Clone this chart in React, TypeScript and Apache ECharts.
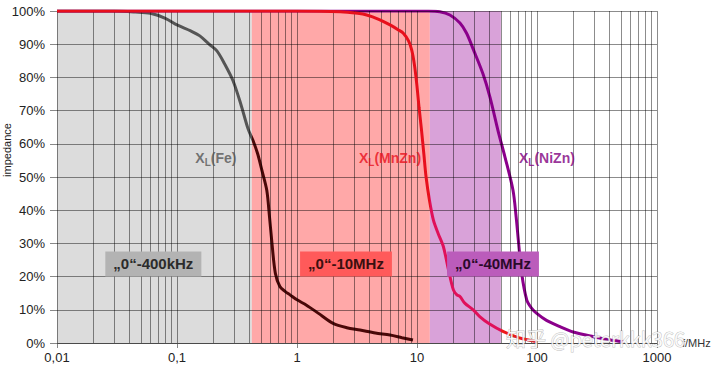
import React, { useEffect, useRef } from "react";
import * as echarts from "echarts";

// ---- data (frequency in MHz, impedance in %) ----
const feData: [number, number][] = [
  [0.01, 100], [0.03, 100], [0.045, 99.7], [0.06, 99.3], [0.08, 97.8], [0.1, 95.8],
  [0.13, 94], [0.155, 92.5], [0.185, 90], [0.215, 88], [0.25, 84], [0.293, 79],
  [0.34, 72], [0.391, 64.5], [0.43, 61], [0.47, 57], [0.51, 52], [0.56, 46],
  [0.59, 38], [0.615, 31], [0.66, 21], [0.72, 17], [0.8, 15.5], [0.875, 14.5],
  [1.0, 13], [1.2, 11.4], [1.5, 9], [2.0, 5.9], [2.6, 4.6], [3.35, 3.9],
  [4.5, 3], [5.96, 2.4], [7.5, 1.6], [9.26, 0.9],
];
const mnznData: [number, number][] = [
  [0.01, 100], [1, 100], [2.3, 99.8], [3.2, 99.3], [3.81, 98.8], [4.8, 97.5],
  [5.96, 95.8], [7, 94.3], [7.69, 93.3], [8.5, 91], [9.03, 88.3], [9.5, 84],
  [9.94, 78.2], [10.4, 71], [10.9, 64.2], [11.4, 57], [11.9, 50], [12.7, 43],
  [13.7, 37], [15, 33], [16.6, 29], [18.3, 22], [20.1, 16], [21.5, 14.5],
  [22.8, 14], [25, 12], [29.4, 10], [33.5, 7.9], [40, 5.8], [52, 3.5],
  [70, 1.6], [100, 0.4],
];
const niznData: [number, number][] = [
  [0.01, 100], [10, 100], [12.4, 100], [15.5, 99.8], [18.8, 98.8], [22.8, 96.4],
  [25.9, 93.3], [29.4, 88.5], [35.5, 81], [40.6, 74], [47.3, 64], [54.1, 56],
  [63.1, 46], [67, 38], [69.9, 31], [74.5, 21], [82.1, 13], [90, 10.5],
  [99.5, 8.9], [120, 6.8], [155.6, 4.9], [200, 3.3], [294, 1.9], [400, 1],
  [524, 0.4],
];

// frequency bands (MHz)
const bandFe = [0.01, 0.42];
const bandMnZn = [0.42, 12.8];
const bandNiZn = [12.8, 50];

const decades = [0.01, 0.1, 1, 10, 100, 1000];
const minorMultipliers = [2, 3, 4, 5, 6, 7, 8, 9];
const yTicks = [0, 10, 20, 30, 40, 50, 60, 70, 80, 90, 100];

const bandLabels = ["„0“-400kHz", "„0“-10MHz", "„0“-40MHz"];
const bandLabelPos: [number, number][] = [[0.0635, 23.8], [2.56, 23.8], [43, 23.8]];
const curveNames = ["(Fe)", "(MnZn)", "(NiZn)"];
const curveLabelPos: [number, number][] = [[0.211, 55.7], [5.96, 55.7], [121, 55.7]];

const FONT = "Liberation Sans, Arial, sans-serif";

// horizontal gradient with hard colour changes at given frequencies, relative to the line's bbox
function bandGradient(data: [number, number][], cuts: number[], colors: string[]) {
  const lo = Math.log10(data[0][0]);
  const hi = Math.log10(data[data.length - 1][0]);
  const stops: { offset: number; color: string }[] = [{ offset: 0, color: colors[0] }];
  cuts.forEach((c, i) => {
    const o = Math.min(1, Math.max(0, (Math.log10(c) - lo) / (hi - lo)));
    stops.push({ offset: o, color: colors[i] });
    stops.push({ offset: o, color: colors[i + 1] });
  });
  stops.push({ offset: 1, color: colors[colors.length - 1] });
  return new echarts.graphic.LinearGradient(0, 0, 1, 0, stops);
}

function measure(text: string, font: string) {
  const ctx = document.createElement("canvas").getContext("2d");
  if (!ctx) return text.length * 8.5;
  ctx.font = font;
  return ctx.measureText(text).width;
}

export default function App() {
  const ref = useRef<HTMLDivElement>(null);
  useEffect(() => {
    if (!ref.current) return;
    const chart = echarts.init(ref.current, undefined, { renderer: "svg" });

    const vLines: number[] = [];
    decades.forEach((d, i) => {
      vLines.push(d);
      if (i < decades.length - 1) minorMultipliers.forEach((m) => vLines.push(+(d * m).toPrecision(3)));
    });

    const gridLineStyle = { color: "rgba(0,0,0,0.45)", width: 1, type: "solid" as const };

    const curveLabel = (name: string, color: string, pos: [number, number]) => ({
      value: pos,
      label: {
        show: true,
        position: [0, 0],
        align: "center",
        verticalAlign: "middle",
        formatter: `{x|X}{s|L}{x|${name}}`,
        rich: {
          x: { fontSize: 14, fontWeight: "bold", color, fontFamily: FONT },
          s: { fontSize: 10, fontWeight: "bold", color, fontFamily: FONT, padding: [9, 0, 0, 0] },
        },
      },
    });

    const staticGraphics: any[] = [
      {
        type: "text",
        x: 7,
        y: 150,
        rotation: Math.PI / 2,
        style: {
          text: "impedance",
          fontSize: 11,
          fill: "#222",
          fontFamily: FONT,
          align: "center",
          verticalAlign: "middle",
        },
      },
      {
        type: "text",
        x: 506,
        y: 338,
        z: 100,
        style: {
          text: "知乎 @peterkkk366",
          fontSize: 20,
          fill: "rgba(255,255,255,0.85)",
          stroke: "rgba(120,120,120,0.45)",
          lineWidth: 1,
          fontFamily: "Noto Sans CJK SC, sans-serif",
          verticalAlign: "middle",
        },
      },
    ];

    chart.setOption({
      animation: false,
      grid: { left: 57, right: 63, top: 11, bottom: 27, containLabel: false },
      xAxis: {
        type: "log",
        logBase: 10,
        min: 0.01,
        max: 1000,
        name: "f/MHz",
        nameLocation: "end",
        nameGap: 25,
        nameTextStyle: { fontSize: 11, color: "#333", fontFamily: FONT, verticalAlign: "middle", padding: [0, 0, 4, 0] },
        axisLine: { show: true, lineStyle: { color: "#888" } },
        axisTick: { show: true, length: 5, lineStyle: { color: "#888" } },
        axisLabel: {
          fontSize: 13,
          color: "#222",
          fontFamily: FONT,
          margin: 8,
          formatter: (v: number) => String(v).replace(".", ","),
        },
        splitLine: { show: false },
        minorTick: { show: false },
      },
      yAxis: {
        type: "value",
        min: 0,
        max: 100,
        interval: 10,
        axisLine: { show: true, lineStyle: { color: "#888" } },
        axisTick: { show: true, length: 7, lineStyle: { color: "#888" } },
        axisLabel: { fontSize: 13, color: "#222", fontFamily: FONT, margin: 12, formatter: "{value}%" },
        splitLine: { show: false },
      },
      graphic: staticGraphics,
      series: [
        {
          type: "line",
          data: [],
          z: 1,
          silent: true,
          markArea: {
            silent: true,
            data: [
              [{ xAxis: bandFe[0], itemStyle: { color: "#dcdcdc" } }, { xAxis: bandFe[1] }],
              [{ xAxis: bandMnZn[0], itemStyle: { color: "#ffa8a8" } }, { xAxis: bandMnZn[1] }],
              [{ xAxis: bandNiZn[0], itemStyle: { color: "#d9a2d9" } }, { xAxis: bandNiZn[1] }],
            ],
          },
        },
        {
          type: "line",
          data: [],
          z: 2,
          silent: true,
          markLine: {
            silent: true,
            symbol: ["none", "none"],
            label: { show: false },
            lineStyle: gridLineStyle,
            data: [
              ...vLines.map((v) => ({ xAxis: v })),
              ...yTicks.map((v) => ({ yAxis: v })),
            ],
          },
        },
        {
          name: "Fe",
          type: "line",
          data: feData,
          z: 3,
          smooth: 0.3,
          showSymbol: false,
          lineStyle: { width: 3, color: bandGradient(feData, [bandFe[1]], ["#555555", "#4a0808"]) },
        },
        {
          name: "NiZn",
          type: "line",
          data: niznData,
          z: 4,
          smooth: 0.3,
          showSymbol: false,
          lineStyle: { width: 3, color: "#8b008b" },
        },
        {
          name: "MnZn",
          type: "line",
          data: mnznData,
          z: 5,
          smooth: 0.3,
          showSymbol: false,
          lineStyle: {
            width: 3,
            color: bandGradient(mnznData, [bandNiZn[0], bandNiZn[1]], ["#e8101c", "#e0105a", "#ee1a1a"]),
          },
        },
        {
          type: "scatter",
          z: 6,
          silent: true,
          symbolSize: 0,
          itemStyle: { color: "transparent" },
          data: [
            curveLabel(curveNames[0], "#555555", curveLabelPos[0]),
            curveLabel(curveNames[1], "#e8101c", curveLabelPos[1]),
            curveLabel(curveNames[2], "#800080", curveLabelPos[2]),
          ],
        },
      ],
    });

    // band boxes anchored to data coordinates through the chart's own scales
    const boxStyles = [
      { bg: "#b3b3b3", fg: "#2b2b2b" },
      { bg: "#ff5a5a", fg: "#3a1010" },
      { bg: "#bb5cbb", fg: "#2a0a2a" },
    ];
    const boxFont = `bold 15px ${FONT}`;
    const boxes: any[] = [];
    bandLabels.forEach((text, i) => {
      const p = chart.convertToPixel({ gridIndex: 0 }, bandLabelPos[i]) as number[];
      const w = measure(text, boxFont) + 16;
      const h = 25;
      boxes.push({
        type: "rect",
        z: 50,
        silent: true,
        shape: { x: p[0] - w / 2, y: p[1] - h / 2, width: w, height: h },
        style: { fill: boxStyles[i].bg },
      });
      boxes.push({
        type: "text",
        x: p[0],
        y: p[1],
        z: 51,
        silent: true,
        style: {
          text,
          fill: boxStyles[i].fg,
          fontSize: 15,
          fontWeight: "bold",
          fontFamily: FONT,
          align: "center",
          verticalAlign: "middle",
        },
      });
    });
    chart.setOption({ graphic: [...staticGraphics, ...boxes] });

    return () => chart.dispose();
  }, []);
  return (
    <div
      ref={ref}
      style={{ position: "fixed", left: 0, top: 0, width: 720, height: 370, background: "#fff" }}
    />
  );
}
